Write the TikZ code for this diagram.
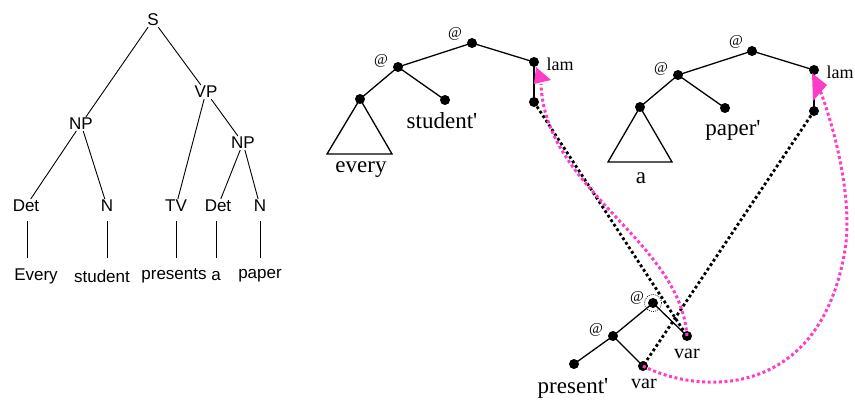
\documentclass[tikz,border=0pt]{standalone}
\usepackage{fontspec}
\setmainfont{Liberation Serif}
\newfontfamily\helv{Liberation Sans}
\usetikzlibrary{arrows.meta}
\definecolor{pinkm}{RGB}{255,60,200}
\begin{document}
\begin{tikzpicture}[x=1pt,y=-1pt,
  syn/.style={font=\helv\fontsize{17}{17}\selectfont, inner sep=1pt},
  ln/.style={line width=0.9pt},
  tl/.style={line width=1.3pt},
  dotn/.style={circle, fill=black, inner sep=0pt, minimum size=10pt},
  lbl/.style={font=\fontsize{23}{23}\selectfont, inner sep=0pt},
  small/.style={font=\fontsize{18}{18}\selectfont, inner sep=0pt},
  atlbl/.style={font=\fontsize{15}{15}\selectfont, inner sep=0pt},
  blkdot/.style={line width=2.8pt, dash pattern=on 2.8pt off 2.6pt, black},
  pnkdot/.style={line width=3pt, dash pattern=on 3pt off 2.6pt, pinkm}
]
\useasboundingbox (0,0) rectangle (855,400);

% ---------- left syntax tree ----------
\node[syn] (S) at (153,20) {S};
\node[syn] (NP) at (81,124) {NP};
\node[syn] (VP) at (206,92) {VP};
\node[syn] (NP2) at (243,143) {NP};
\node[syn] (D1) at (26,206) {Det};
\node[syn] (N1) at (107,206) {N};
\node[syn] (TV) at (176,206) {TV};
\node[syn] (D2) at (218,206) {Det};
\node[syn] (N2) at (260,206) {N};
\node[syn] (w1) at (36,276) {Every};
\node[syn] (w2) at (102,276) {student};
\node[syn] (w3) at (174,276) {presents};
\node[syn] (w4) at (216,276) {a};
\node[syn] (w5) at (260,276) {paper};
\draw[ln] (S) -- (NP);
\draw[ln] (S) -- (VP);
\draw[ln] (NP) -- (D1);
\draw[ln] (NP) -- (N1);
\draw[ln] (VP) -- (TV);
\draw[ln] (VP) -- (NP2);
\draw[ln] (NP2) -- (D2);
\draw[ln] (NP2) -- (N2);
\draw[ln] (27,221) -- (27,258);
\draw[ln] (107,221) -- (107,258);
\draw[ln] (176,221) -- (176,258);
\draw[ln] (216,221) -- (216,258);
\draw[ln] (260,221) -- (260,258);

% ---------- tree 1 (every student) ----------
\node[dotn] (a1) at (472,43) {};
\node[dotn] (b1) at (398,67) {};
\node[dotn] (e1) at (360,99) {};
\node[dotn] (s1) at (445,100) {};
\node[dotn] (l1) at (534,62) {};
\node[dotn] (v1) at (534,102) {};
\node[atlbl] at (455,34) {@};
\node[atlbl] at (381,61) {@};
\node[small] at (560,64) {lam};
\node[lbl] (every) at (361,170) {every};
\node[lbl] (student) at (442,121) {student\textquotesingle};
\draw[tl] (a1.center) -- (b1.center);
\draw[tl] (a1.center) -- (l1.center);
\draw[tl] (b1.center) -- (e1.center);
\draw[tl] (b1.center) -- (s1.center);
\draw[tl] (l1.center) -- (v1.center);
\draw[tl] (e1.center) -- (327,154) -- (392,154) -- cycle;

% ---------- tree 2 (a paper) ----------
\node[dotn] (a2) at (752,51) {};
\node[dotn] (b2) at (678,75) {};
\node[dotn] (e2) at (640,107) {};
\node[dotn] (s2) at (725,108) {};
\node[dotn] (l2) at (814,70) {};
\node[dotn] (v2) at (814,111) {};
\node[atlbl] at (736,42) {@};
\node[atlbl] at (661,69) {@};
\node[small] at (840,72) {lam};
\node[lbl] (aa) at (641,178) {a};
\node[lbl] (paper) at (733,130) {paper\textquotesingle};
\draw[tl] (a2.center) -- (b2.center);
\draw[tl] (a2.center) -- (l2.center);
\draw[tl] (b2.center) -- (e2.center);
\draw[tl] (b2.center) -- (s2.center);
\draw[tl] (l2.center) -- (v2.center);
\draw[tl] (e2.center) -- (608,162) -- (672,162) -- cycle;

% ---------- bottom tree (present) ----------
\node[dotn] (a3) at (653,303) {};
\node[dotn] (b3) at (613,336) {};
\node[dotn] (p3) at (574,364) {};
\node[dotn] (x3) at (643,366) {};
\node[dotn] (y3) at (687,336) {};
\draw[line width=0.7pt, dash pattern=on 0.9pt off 1.2pt] (a3.center) circle (8.5pt);
\node[atlbl] at (637,298) {@};
\node[atlbl] at (596,330) {@};
\node[lbl] (present) at (573,388) {present\textquotesingle};
\node[font=\fontsize{20}{20}\selectfont, inner sep=0pt] (var1) at (644,384) {var};
\node[font=\fontsize{20}{20}\selectfont, inner sep=0pt] (var2) at (687,354) {var};
\draw[tl] (a3.center) -- (b3.center);
\draw[tl] (a3.center) -- (y3.center);
\draw[tl] (b3.center) -- (p3.center);
\draw[tl] (b3.center) -- (x3.center);

% ---------- black dotted links ----------
\draw[blkdot] (v1.center) -- (y3.center);
\draw[blkdot] (v2.center) -- (x3.center);

% ---------- pink dotted arrows ----------
\draw[pnkdot] (y3.center) .. controls (680,240) and (545,190) .. (541,84);
\fill[pinkm] (536,67) -- (534,84) -- (551,80) -- cycle;
\draw[pnkdot] (x3.center) .. controls (700,395) and (820,400) .. (845,250)
  .. controls (853,200) and (835,130) .. (820,90);
\fill[pinkm] (812,73) -- (813,101) -- (827,85) -- cycle;
\end{tikzpicture}
\end{document}
